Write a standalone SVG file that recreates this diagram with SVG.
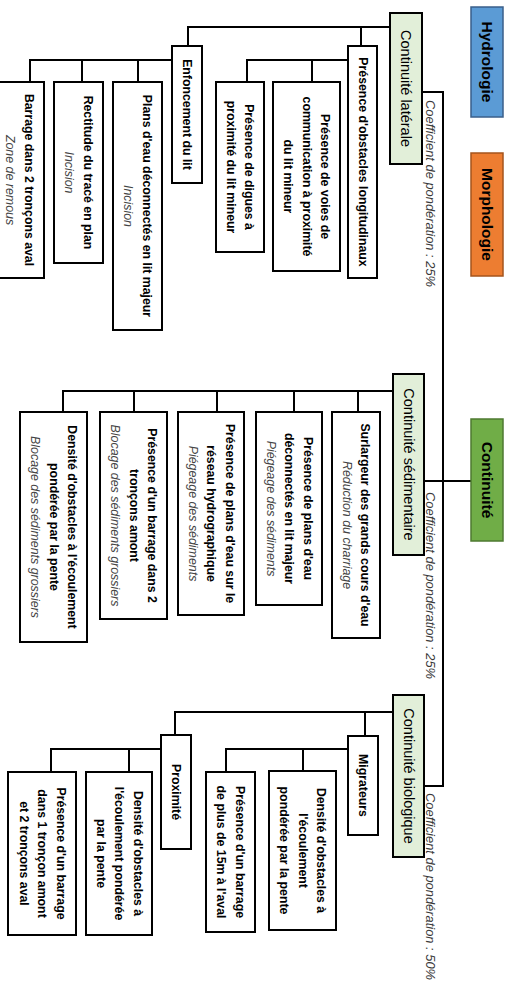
<svg xmlns="http://www.w3.org/2000/svg" width="508" height="981" viewBox="0 0 508 981">
<style>
text, tspan { font-family: "Liberation Sans", Arial, sans-serif; dominant-baseline: central; }
text { text-anchor: middle; fill: #000; }
.box { fill: #fff; stroke: #000; stroke-width: 2; }
.l2 { fill: #E2EFD9; stroke: #000; stroke-width: 2; }
.top { font-size: 15.5px; font-weight: bold; }
.t2 { font-size: 14.5px; }
.leaf { font-size: 12.3px; font-weight: bold; }
.it { font-style: italic; font-weight: normal; fill: #444; font-size: 12.4px; }
.coef { font-size: 12.9px; font-style: italic; fill: #3a3a3a; text-anchor: start; }
.conn { fill: none; stroke: #000; stroke-width: 2; }
</style>
<rect width="508" height="981" fill="#fff"/>

<g id="connectors">
  <path class="conn" d="M471,481 H443" stroke-width="3.5"/>
  <path class="conn" d="M422,92 H443 V786 H424"/>
  <path class="conn" d="M443,481 H424"/>
  <path class="conn" d="M390,27 H188 V46 M361,27 V46"/>
  <path class="conn" d="M348,60 H247 V82 M312,60 V82"/>
  <path class="conn" d="M172,60 H30 V82 M138,60 V82 M82,60 V82"/>
  <path class="conn" d="M393,391 H63 V412 M358,391 V412 M294,391 V412 M217,391 V412 M134,391 V412"/>
  <path class="conn" d="M393,712 H175 V735 M365,712 V736"/>
  <path class="conn" d="M348,749 H226 V771 M303,749 V771"/>
  <path class="conn" d="M161,749 H51 V772 M129,749 V772"/>
</g>

<g id="coefficients">
  <text class="coef" transform="translate(430,100) rotate(90)">Coefficient de pondération : 25%</text>
  <text class="coef" transform="translate(430,492) rotate(90)">Coefficient de pondération : 25%</text>
  <text class="coef" transform="translate(430,793) rotate(90)">Coefficient de pondération : 50%</text>
</g>

<g id="hydrologie">
  <rect x="471" y="7" width="32" height="110" fill="#5B9BD5" stroke="#3A5F8A" stroke-width="1.5"/>
  <text class="top" transform="translate(487,62) rotate(90)">Hydrologie</text>
</g>
<g id="morphologie">
  <rect x="471" y="153" width="32" height="123" fill="#ED7D31" stroke="#A5541C" stroke-width="1.5"/>
  <text class="top" transform="translate(487,214.5) rotate(90)">Morphologie</text>
</g>
<g id="continuite">
  <rect x="471" y="419" width="32" height="122" fill="#70AD47" stroke="#4E7A31" stroke-width="1.5"/>
  <text class="top" transform="translate(487,480) rotate(90)">Continuité</text>
</g>

<g id="continuite-laterale">
  <rect class="l2" x="390" y="13" width="32" height="151"/>
  <text class="t2" transform="translate(406,88.5) rotate(90)">Continuité latérale</text>
</g>
<g id="continuite-sedimentaire">
  <rect class="l2" x="393" y="374" width="31" height="181"/>
  <text class="t2" transform="translate(408.5,464.5) rotate(90)">Continuité sédimentaire</text>
</g>
<g id="continuite-biologique">
  <rect class="l2" x="393" y="695" width="31" height="162"/>
  <text class="t2" transform="translate(408.5,776) rotate(90)">Continuité biologique</text>
</g>

<g id="obstacles-longitudinaux">
  <rect class="box" x="348" y="46" width="29" height="232"/>
  <text class="leaf" transform="translate(362.5,162) rotate(90)">Présence d'obstacles longitudinaux</text>
</g>
<g id="voies-communication">
  <rect class="box" x="273" y="82" width="67" height="189"/>
  <text class="leaf" transform="translate(306.5,176.5) rotate(90)"><tspan x="0" dy="-18.5">Présence de voies de</tspan><tspan x="0" dy="18.5">communication à proximité</tspan><tspan x="0" dy="18.5">du lit mineur</tspan></text>
</g>
<g id="digues">
  <rect class="box" x="216" y="82" width="48" height="170"/>
  <text class="leaf" transform="translate(240,167) rotate(90)"><tspan x="0" dy="-9.25">Présence de digues à</tspan><tspan x="0" dy="18.5">proximité du lit mineur</tspan></text>
</g>
<g id="enfoncement">
  <rect class="box" x="172" y="46" width="30" height="137"/>
  <text class="leaf" transform="translate(187,114.5) rotate(90)">Enfoncement du lit</text>
</g>
<g id="plans-eau-lit-majeur">
  <rect class="box" x="113" y="82" width="49" height="248"/>
  <text class="leaf" transform="translate(137.5,206) rotate(90)"><tspan x="0" dy="-9.25">Plans d'eau déconnectés en lit majeur</tspan><tspan class="it" x="0" dy="18.5">Incision</tspan></text>
</g>
<g id="rectitude">
  <rect class="box" x="54" y="82" width="49" height="181"/>
  <text class="leaf" transform="translate(78.5,172.5) rotate(90)"><tspan x="0" dy="-9.25">Rectitude du tracé en plan</tspan><tspan class="it" x="0" dy="18.5">Incision</tspan></text>
</g>
<g id="barrage-aval">
  <rect class="box" x="-5" y="82" width="49" height="196"/>
  <text class="leaf" transform="translate(19.5,180) rotate(90)"><tspan x="0" dy="-9.25">Barrage dans 2 tronçons aval</tspan><tspan class="it" x="0" dy="18.5">Zone de remous</tspan></text>
</g>

<g id="surlargeur">
  <rect class="box" x="332" y="412" width="48" height="226"/>
  <text class="leaf" transform="translate(356,525) rotate(90)"><tspan x="0" dy="-9.25">Surlargeur des grands cours d'eau</tspan><tspan class="it" x="0" dy="18.5">Réduction du charriage</tspan></text>
</g>
<g id="plans-eau-deconnectes">
  <rect class="box" x="256" y="412" width="66" height="193"/>
  <text class="leaf" transform="translate(289,508.5) rotate(90)"><tspan x="0" dy="-18.5">Présence de plans d'eau</tspan><tspan x="0" dy="18.5">déconnectés en lit majeur</tspan><tspan class="it" x="0" dy="18.5">Piégeage des sédiments</tspan></text>
</g>
<g id="plans-eau-reseau">
  <rect class="box" x="178" y="412" width="66" height="203"/>
  <text class="leaf" transform="translate(211,513.5) rotate(90)"><tspan x="0" dy="-18.5">Présence de plans d'eau sur le</tspan><tspan x="0" dy="18.5">réseau hydrographique</tspan><tspan class="it" x="0" dy="18.5">Piégeage des sédiments</tspan></text>
</g>
<g id="barrage-amont">
  <rect class="box" x="100" y="412" width="67" height="207"/>
  <text class="leaf" transform="translate(133.5,515.5) rotate(90)"><tspan x="0" dy="-18.5">Présence d'un barrage dans 2</tspan><tspan x="0" dy="18.5">tronçons amont</tspan><tspan class="it" x="0" dy="18.5">Blocage des sédiments grossiers</tspan></text>
</g>
<g id="densite-sedimentaire">
  <rect class="box" x="20" y="412" width="67" height="230"/>
  <text class="leaf" transform="translate(53.5,527) rotate(90)"><tspan x="0" dy="-18.5">Densité d'obstacles à l'écoulement</tspan><tspan x="0" dy="18.5">pondérée par la pente</tspan><tspan class="it" x="0" dy="18.5">Blocage des sédiments grossiers</tspan></text>
</g>

<g id="migrateurs">
  <rect class="box" x="348" y="736" width="30" height="99"/>
  <text class="leaf" transform="translate(363,785.5) rotate(90)">Migrateurs</text>
</g>
<g id="densite-migrateurs">
  <rect class="box" x="269" y="771" width="67" height="159"/>
  <text class="leaf" transform="translate(302.5,850.5) rotate(90)"><tspan x="0" dy="-18.5">Densité d'obstacles à</tspan><tspan x="0" dy="18.5">l'écoulement</tspan><tspan x="0" dy="18.5">pondérée par la pente</tspan></text>
</g>
<g id="barrage-15m">
  <rect class="box" x="206" y="772" width="49" height="160"/>
  <text class="leaf" transform="translate(230.5,852) rotate(90)"><tspan x="0" dy="-9.25">Présence d'un barrage</tspan><tspan x="0" dy="18.5">de plus de 15m à l'aval</tspan></text>
</g>
<g id="proximite">
  <rect class="box" x="161" y="735" width="30" height="114"/>
  <text class="leaf" transform="translate(176,792) rotate(90)">Proximité</text>
</g>
<g id="densite-proximite">
  <rect class="box" x="86" y="772" width="66" height="163"/>
  <text class="leaf" transform="translate(119,853.5) rotate(90)"><tspan x="0" dy="-18.5">Densité d'obstacles à</tspan><tspan x="0" dy="18.5">l'écoulement pondérée</tspan><tspan x="0" dy="18.5">par la pente</tspan></text>
</g>
<g id="barrage-troncons">
  <rect class="box" x="8" y="772" width="68" height="163"/>
  <text class="leaf" transform="translate(42,853.5) rotate(90)"><tspan x="0" dy="-18.5">Présence d'un barrage</tspan><tspan x="0" dy="18.5">dans 1 tronçon amont</tspan><tspan x="0" dy="18.5">et 2 tronçons aval</tspan></text>
</g>
</svg>
